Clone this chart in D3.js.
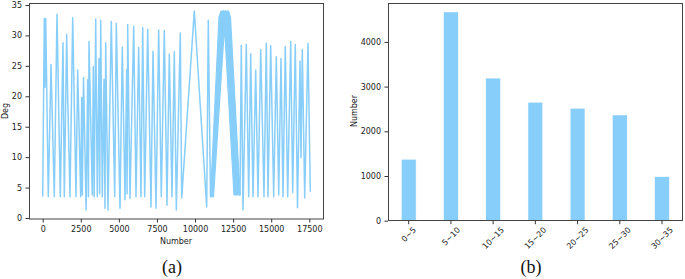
<!DOCTYPE html>
<html>
<head>
<meta charset="utf-8">
<script src="https://cdn.jsdelivr.net/npm/d3@7"></script>
<style>
  body { margin: 0; background: #fff; }
  svg text { font-family: "DejaVu Sans", sans-serif; fill: #222; }
  .axis path { display: none; }
  .axis line { stroke: #333; }
  .frame { fill: none; stroke: #444; stroke-width: 1; }
  .caption { font-family: "Liberation Serif", serif; font-size: 18px; fill: #111; }
</style>
</head>
<body>
<svg id="chart" width="685" height="279"></svg>
<script>
// (a) Deg trace, turning points: [Number, Deg]
var degTrace = [
  [0, 3.5], [105, 32.8], [151, 21.5], [197, 32.8], [368, 3.5], [545, 25.2], [761, 3.5],
  [939, 33.5], [1155, 3.5], [1332, 28.8], [1418, 3.5], [1575, 30.2], [1640, 20], [1792, 3.5],
  [1969, 32.9], [2186, 3.5], [2297, 24.3], [2494, 3.5], [2560, 19.8], [2599, 3.8],
  [2678, 23.1], [2850, 1.3], [2954, 22.7], [3000, 3.5], [3039, 29], [3256, 3.8],
  [3321, 24.9], [3380, 3.5], [3479, 32.7], [3584, 3.5], [3696, 26.2], [3740, 4],
  [3807, 32.5], [3912, 3.5], [4024, 22.8], [4089, 1.6], [4135, 28.8], [4286, 1.3],
  [4503, 32.3], [4726, 3.5], [4831, 32], [5074, 1.6], [5225, 28.1], [5402, 3],
  [5514, 24.4], [5540, 4], [5579, 31.8], [5730, 3.2], [5973, 31.5], [6124, 3.5],
  [6301, 28], [6452, 3.5], [6564, 31.3], [6695, 3.5], [6892, 31], [7109, 1.8],
  [7240, 27.4], [7437, 1.6], [7614, 30.9], [7785, 3.5], [7982, 30.8], [8159, 2.1],
  [8310, 26.9], [8487, 3.5], [8638, 27.3], [8770, 1.3], [9032, 30.4], [9124, 3.3],
  [9951, 34], [10765, 1.8], [10870, 32.5], [11014, 3.5], [11868, 34], [12951, 3.8],
  [13036, 28.4], [13148, 1.3], [13364, 28.5], [13522, 3.5], [13653, 27], [13804, 3.5],
  [13981, 24.3], [14132, 3.5], [14310, 27.7], [14526, 3.5], [14677, 28.7], [14789, 3.5],
  [14966, 28.3], [15163, 3.5], [15334, 26.5], [15492, 3.8], [15642, 26.2], [15773, 3.5],
  [15924, 28.2], [16082, 3.5], [16279, 29], [16410, 4.2], [16580, 28.5], [16725, 1.7],
  [16889, 25.8], [16955, 9.9], [17040, 27.7], [17198, 3.3], [17414, 28.7], [17565, 4.3]
];
// outline of the dense oscillation band around Number 12000
var degBand = [
  [11014, 3.5], [11572, 33], [11704, 34], [12196, 34], [12327, 33], [12951, 3.8],
  [12557, 3.8], [11933, 31.5], [11211, 3.5]
];
var degTicksX = [0, 2500, 5000, 7500, 10000, 12500, 15000, 17500];
var degTicksY = [0, 5, 10, 15, 20, 25, 30, 35];

// (b) histogram of Deg ranges
var binLabels = ["0~5", "5~10", "10~15", "15~20", "20~25", "25~30", "30~35"];
var binCounts = [1375, 4670, 3190, 2650, 2515, 2365, 985];
var countTicks = [0, 1000, 2000, 3000, 4000];

var blue = "#87CEFA";
var svg = d3.select("#chart");
var fmt = d3.format("d");

// ---------- panel (a) ----------
var xA = d3.scaleLinear().domain([0, 17500]).range([42.7, 309.3]);
var yA = d3.scaleLinear().domain([0, 35]).range([218, 5]);
var lineA = d3.line().x(function(d) { return xA(d[0]); }).y(function(d) { return yA(d[1]); });

svg.append("clipPath").attr("id", "clipA")
   .append("rect").attr("x", 29).attr("y", 3).attr("width", 295).attr("height", 216);

svg.append("path")
   .datum(degBand)
   .attr("clip-path", "url(#clipA)")
   .attr("fill", blue)
   .attr("stroke", blue)
   .attr("stroke-width", 1.2)
   .attr("stroke-linejoin", "round")
   .attr("d", function(d) { return lineA(d) + "Z"; });

svg.append("path")
   .datum(degTrace)
   .attr("clip-path", "url(#clipA)")
   .attr("fill", "none")
   .attr("stroke", blue)
   .attr("stroke-width", 1.5)
   .attr("stroke-linejoin", "round")
   .attr("d", lineA);

svg.append("rect").attr("class", "frame")
   .attr("x", 29.5).attr("y", 3.5).attr("width", 294).attr("height", 215.5);

svg.append("g").attr("class", "axis")
   .attr("transform", "translate(0,219)")
   .call(d3.axisBottom(xA).tickValues(degTicksX).tickFormat(fmt).tickSize(3.5).tickPadding(3.5))
   .selectAll("text").style("font-size", "8px").style("font-family", "DejaVu Sans");

svg.append("g").attr("class", "axis")
   .attr("transform", "translate(29,0)")
   .call(d3.axisLeft(yA).tickValues(degTicksY).tickFormat(fmt).tickSize(3.5).tickPadding(3.5))
   .selectAll("text").style("font-size", "8px").style("font-family", "DejaVu Sans");

svg.append("text")
   .attr("x", 176).attr("y", 244)
   .attr("text-anchor", "middle").style("font-size", "8px")
   .text("Number");

svg.append("text")
   .attr("transform", "translate(8,111) rotate(-90)")
   .attr("text-anchor", "middle").style("font-size", "8px")
   .text("Deg");

svg.append("text").attr("class", "caption")
   .attr("x", 172).attr("y", 273).attr("text-anchor", "middle")
   .text("(a)");

// ---------- panel (b) ----------
var xB = d3.scaleLinear().domain([-0.49, 6.49]).range([388, 682.7]);
var yB = d3.scaleLinear().domain([0, 4000]).range([220.7, 41.9]);
var barW = 0.35;

svg.selectAll(".bar")
   .data(binCounts)
   .enter().append("rect")
   .attr("class", "bar")
   .attr("x", function(d, i) { return xB(i - barW / 2); })
   .attr("width", xB(barW) - xB(0))
   .attr("y", function(d) { return yB(d); })
   .attr("height", function(d) { return yB(0) - yB(d); })
   .attr("fill", blue)
   .attr("stroke", "#fff")
   .attr("stroke-width", 0.5);

svg.append("rect").attr("class", "frame")
   .attr("x", 388.5).attr("y", 3.5).attr("width", 294).attr("height", 217);

svg.append("g").attr("class", "axis")
   .attr("transform", "translate(388,0)")
   .call(d3.axisLeft(yB).tickValues(countTicks).tickFormat(fmt).tickSize(3.5).tickPadding(3.5))
   .selectAll("text").style("font-size", "8px").style("font-family", "DejaVu Sans");

var xAxisB = svg.append("g").attr("class", "axis")
   .attr("transform", "translate(0,220.7)");

xAxisB.selectAll("line")
   .data(binLabels)
   .enter().append("line")
   .attr("x1", function(d, i) { return xB(i); })
   .attr("x2", function(d, i) { return xB(i); })
   .attr("y1", 0).attr("y2", 3.5);

xAxisB.selectAll("text")
   .data(binLabels)
   .enter().append("text")
   .style("font-size", "8px")
   .attr("text-anchor", "middle")
   .attr("dy", "0.35em")
   .text(function(d) { return d; })
   .attr("transform", function(d, i) {
     var len = this.getComputedTextLength();
     var h = (len + 9.3) * 0.7071;
     return "translate(" + xB(i) + "," + (4.5 + h / 2) + ") rotate(-45)";
   });

svg.append("text")
   .attr("transform", "translate(357,111) rotate(-90)")
   .attr("text-anchor", "middle").style("font-size", "8px")
   .text("Number");

svg.append("text").attr("class", "caption")
   .attr("x", 531).attr("y", 273).attr("text-anchor", "middle")
   .text("(b)");
</script>
</body>
</html>
